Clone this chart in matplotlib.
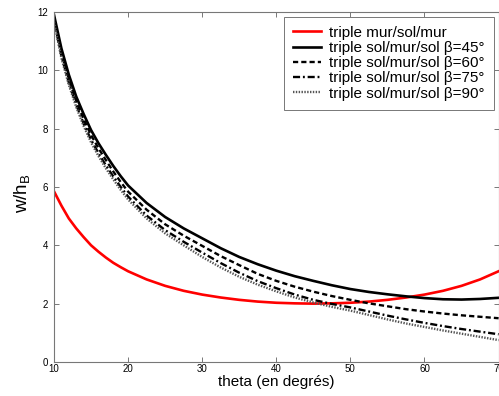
import matplotlib
matplotlib.use("Agg")
import matplotlib.pyplot as plt

# ── Data ──────────────────────────────────────────────────────────────────────
theta = [10, 11, 12, 13, 14, 15, 16, 17, 18, 19, 20,
         22.5, 25, 27.5, 30, 32.5, 35, 37.5, 40, 42.5, 45,
         47.5, 50, 52.5, 55, 57.5, 60, 62.5, 65, 67.5, 70]

mur_sol_mur = [5.85, 5.36, 4.92, 4.58, 4.28, 4.00, 3.78, 3.58, 3.40, 3.25, 3.11,
               2.83, 2.61, 2.44, 2.31, 2.21, 2.13, 2.07, 2.03, 2.01, 2.00,
               2.01, 2.03, 2.07, 2.13, 2.21, 2.31, 2.44, 2.61, 2.83, 3.11]

sol_mur_sol_45 = [11.9, 10.75, 9.85, 9.10, 8.50, 7.95, 7.50, 7.10, 6.72, 6.37, 6.05,
                  5.45, 4.97, 4.58, 4.24, 3.90, 3.60, 3.35, 3.13, 2.94, 2.78,
                  2.63, 2.50, 2.40, 2.32, 2.25, 2.19, 2.15, 2.14, 2.16, 2.20]
sol_mur_sol_60 = [11.8, 10.6, 9.70, 8.95, 8.33, 7.78, 7.33, 6.92, 6.53, 6.17, 5.84,
                  5.22, 4.72, 4.33, 3.98, 3.63, 3.32, 3.02, 2.78, 2.58, 2.41,
                  2.26, 2.13, 2.01, 1.91, 1.81, 1.73, 1.66, 1.60, 1.55, 1.50]
sol_mur_sol_75 = [11.7, 10.5, 9.58, 8.82, 8.17, 7.62, 7.16, 6.74, 6.36, 6.00, 5.67,
                  5.02, 4.52, 4.12, 3.75, 3.39, 3.06, 2.77, 2.53, 2.31, 2.13,
                  1.99, 1.87, 1.73, 1.59, 1.46, 1.34, 1.23, 1.13, 1.04, 0.95]
sol_mur_sol_90 = [11.65, 10.42, 9.50, 8.74, 8.09, 7.53, 7.06, 6.64, 6.26, 5.90, 5.57,
                  4.92, 4.41, 4.00, 3.60, 3.24, 2.92, 2.65, 2.42, 2.21, 2.04,
                  1.89, 1.76, 1.61, 1.46, 1.32, 1.20, 1.08, 0.97, 0.86, 0.75]

x_ticks = [10, 20, 30, 40, 50, 60, 70]
y_ticks = [0, 2, 4, 6, 8, 10, 12]

plt.rcParams["font.family"] = ["Liberation Sans", "DejaVu Sans"]
plt.rcParams["mathtext.fontset"] = "custom"
plt.rcParams["mathtext.rm"] = "Liberation Sans"

fig = plt.figure(figsize=(4.99, 3.96), dpi=100)
ax = fig.add_axes([0.1082, 0.0859, 0.891, 0.884])

ax.plot(theta, mur_sol_mur, color="#ff0000", lw=1.9, label="triple mur/sol/mur")
ax.plot(theta, sol_mur_sol_45, color="black", lw=1.9, label="triple sol/mur/sol β=45°")
ax.plot(theta, sol_mur_sol_60, color="black", lw=1.7, ls=(0, (2.2, 1.3)),
        label="triple sol/mur/sol β=60°")
ax.plot(theta, sol_mur_sol_75, color="black", lw=1.7, ls=(0, (3, 1.2, 0.8, 1.2)),
        label="triple sol/mur/sol β=75°")
ax.plot(theta, sol_mur_sol_90, color="#555555", lw=1.7, ls=(0, (0.6, 0.6)),
        label="triple sol/mur/sol β=90°")

ax.set_xlim(10, 70)
ax.set_ylim(0, 12)
ax.set_xticks(x_ticks)
ax.set_yticks(y_ticks)
ax.tick_params(direction="in", top=True, right=True, length=3.5, width=0.7,
               color="#777777", labelsize=7)
ax.tick_params(axis="x", pad=1.5)
ax.tick_params(axis="y", pad=4)
for sp in ax.spines.values():
    sp.set_color("#777777")
    sp.set_linewidth(0.8)

ax.set_xlabel("theta (en degrés)", fontsize=11, labelpad=1)
ax.set_ylabel("w/h$_\\mathregular{B}$", fontsize=13.5)
ax.yaxis.set_label_coords(-0.047, 0.483)

leg = ax.legend(loc="upper right", fontsize=11, fancybox=False, framealpha=1,
                edgecolor="#777777", handlelength=1.85, handletextpad=0.55,
                labelspacing=0.08, borderaxespad=0.3, borderpad=0.6)
leg.get_frame().set_linewidth(0.7)

plt.savefig("out.png", dpi=100)
plt.close()
